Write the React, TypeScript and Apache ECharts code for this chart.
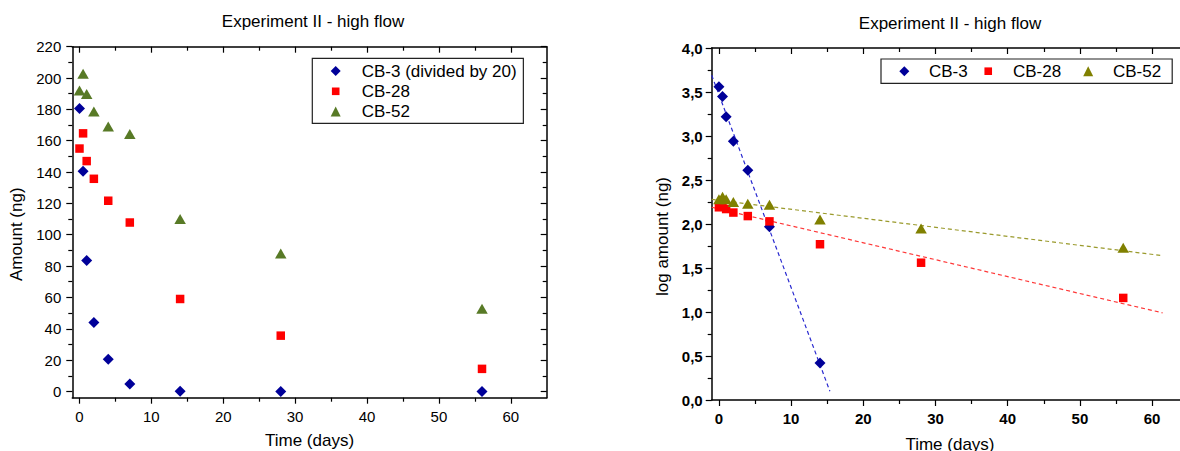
import React, { useEffect, useRef } from 'react';
import * as echarts from 'echarts';

const FONT = '"Liberation Sans", Arial, Helvetica, sans-serif';

// ---- Left panel: amounts (ng) ----
const days = [0, 0.5, 1, 2, 4, 7, 14, 28, 56];
const cb3Div20 = [180.5, 140.5, 83.5, 44, 20.5, 4.7, 0.1, 0, 0];
const cb28 = [155, 164.7, 147, 135.7, 121.7, 107.8, 59, 35.6, 14.4];
const cb52 = [192, 202.8, 189.8, 178.7, 169, 164.3, 110, 88, 52.7];

// ---- Right panel: log amounts ----
const daysCb3Log = [0, 0.5, 1, 2, 4, 7, 14];
const logCb3 = [3.56, 3.45, 3.22, 2.94, 2.61, 1.97, 0.42];
const logCb28 = [2.19, 2.22, 2.17, 2.13, 2.09, 2.03, 1.77, 1.56, 1.16];
const logCb52 = [2.28, 2.31, 2.28, 2.25, 2.23, 2.22, 2.05, 1.95, 1.73];
// dashed linear fits (end points)
const fitCb3 = [[-1, 3.69], [15.37, 0.1]];
const fitCb28 = [[-1, 2.19], [61.45, 0.99]];
const fitCb52 = [[-1, 2.28], [61.45, 1.64]];

// ---- ticks ----
const xMajorTicks = [0, 10, 20, 30, 40, 50, 60];
const xMinorTicks = [5, 15, 25, 35, 45, 55];
const amountMajorTicks = [0, 20, 40, 60, 80, 100, 120, 140, 160, 180, 200, 220];
const amountMinorTicks = [10, 30, 50, 70, 90, 110, 130, 150, 170, 190, 210];
const logMajorTicks = [0, 0.5, 1, 1.5, 2, 2.5, 3, 3.5, 4];
const logMinorTicks = [0.25, 0.75, 1.25, 1.75, 2.25, 2.75, 3.25, 3.75];

const BLUE = '#000099';
const RED = '#ff0000';
const GREEN_L = '#587a26';
const GREEN_R = '#808000';

type AxisCfg = {
  isX: boolean;
  min: number;
  max: number;
  major: number[];
  minor: number[];
  labelStyle: any;
  labelMargin: number;
  formatter?: (v: number) => string;
  name: string;
  nameGap: number;
  namePadding: number[];
};

function makeAxes(c: AxisCfg) {
  const mainPos = c.isX ? 'bottom' : 'left';
  const oppPos = c.isX ? 'top' : 'right';
  const line = { color: '#000', width: 1.5 };
  const tickLine = { color: '#000', width: 1.2 };
  const base = { type: 'value', min: c.min, max: c.max, splitLine: { show: false } };
  return [
    {
      ...base,
      position: mainPos,
      axisLine: { show: true, onZero: false, lineStyle: line },
      axisTick: { show: true, inside: false, length: 6, customValues: c.major, lineStyle: tickLine },
      axisLabel: {
        show: true,
        customValues: c.major,
        margin: c.labelMargin,
        formatter: c.formatter,
        color: '#000',
        fontFamily: FONT,
        ...c.labelStyle,
      },
      name: c.name,
      nameLocation: 'middle',
      nameGap: c.nameGap,
      nameTextStyle: { fontSize: 17, fontFamily: FONT, color: '#000', padding: c.namePadding },
    },
    {
      ...base,
      position: mainPos,
      axisLine: { show: false, onZero: false },
      axisTick: { show: true, inside: false, length: 4, customValues: c.minor, lineStyle: tickLine },
      axisLabel: { show: false },
    },
    {
      ...base,
      position: oppPos,
      axisLine: { show: true, onZero: false, lineStyle: line },
      axisTick: { show: true, inside: true, length: 6, customValues: c.major, lineStyle: tickLine },
      axisLabel: { show: false },
    },
    {
      ...base,
      position: oppPos,
      axisLine: { show: false, onZero: false },
      axisTick: { show: true, inside: true, length: 4, customValues: c.minor, lineStyle: tickLine },
      axisLabel: { show: false },
    },
  ];
}

const pairs = (xs: number[], ys: number[]) => ys.map((y, i) => [xs[i], y]);

const titleOpt = (top: number) => ({
  text: 'Experiment II - high flow',
  left: 'center',
  top,
  padding: 0,
  textStyle: { fontSize: 17, fontWeight: 'normal', fontFamily: FONT, color: '#000' },
});

const SQUARE_ICON = 'path://M0,0M10,10M1.2,1.2L8.8,1.2L8.8,8.8L1.2,8.8Z';

const leftOption: any = {
  animation: false,
  textStyle: { fontFamily: FONT },
  title: titleOpt(13),
  grid: { left: 72.3, top: 46.7, width: 474.4, height: 351, outerBoundsMode: 'none' },
  xAxis: makeAxes({
    isX: true, min: -1, max: 65, major: xMajorTicks, minor: xMinorTicks,
    labelStyle: { fontSize: 15 }, labelMargin: 11,
    name: 'Time (days)', nameGap: 34, namePadding: [0, 0, 0, 0],
  }),
  yAxis: makeAxes({
    isX: false, min: -4, max: 220, major: amountMajorTicks, minor: amountMinorTicks,
    labelStyle: { fontSize: 15 }, labelMargin: 11,
    name: 'Amount (ng)', nameGap: 44, namePadding: [0, 24, 0, 0],
  }),
  legend: {
    orient: 'vertical',
    left: 312.3,
    top: 58.3,
    padding: [2.7, 6.7, 1.7, 18.4],
    itemWidth: 10,
    itemHeight: 10,
    itemGap: 0.3,
    borderColor: '#222',
    borderWidth: 1.2,
    textStyle: { fontSize: 17, lineHeight: 20, fontFamily: FONT, color: '#000', padding: [0, 0, 0, 16] },
    data: [
      { name: 'CB-3 (divided by 20)', icon: 'diamond' },
      { name: 'CB-28', icon: SQUARE_ICON },
      { name: 'CB-52', icon: 'triangle' },
    ],
  },
  series: [
    { type: 'scatter', name: 'CB-3 (divided by 20)', data: pairs(days, cb3Div20), symbol: 'diamond', symbolSize: 11, itemStyle: { color: BLUE, opacity: 1 }, z: 3 },
    { type: 'scatter', name: 'CB-28', data: pairs(days, cb28), symbol: 'rect', symbolSize: 8.5, itemStyle: { color: RED, opacity: 1 }, z: 3 },
    { type: 'scatter', name: 'CB-52', data: pairs(days, cb52), symbol: 'triangle', symbolSize: [11.5, 10], itemStyle: { color: GREEN_L, opacity: 1 }, z: 3 },
  ],
};

const fmtComma = (v: number) => v.toFixed(1).replace('.', ',');

const rightOption: any = {
  animation: false,
  textStyle: { fontFamily: FONT },
  title: titleOpt(15),
  grid: { left: 121.7, top: 48, width: 476.5, height: 352, outerBoundsMode: 'none' },
  xAxis: makeAxes({
    isX: true, min: -1, max: 65, major: xMajorTicks, minor: xMinorTicks,
    labelStyle: { fontSize: 15, fontWeight: 'bold' }, labelMargin: 11,
    name: 'Time (days)', nameGap: 35.5, namePadding: [0, 0, 0, 0],
  }),
  yAxis: makeAxes({
    isX: false, min: 0, max: 4, major: logMajorTicks, minor: logMinorTicks,
    labelStyle: { fontSize: 15, fontWeight: 'bold' }, labelMargin: 9, formatter: fmtComma,
    name: 'log amount (ng)', nameGap: 40, namePadding: [0, 25, 0, 0],
  }),
  legend: {
    orient: 'horizontal',
    left: 291,
    top: 59,
    padding: [2.2, 11.1, 2.1, 18.3],
    itemWidth: 10,
    itemHeight: 10,
    itemGap: 15.5,
    borderColor: '#222',
    borderWidth: 1.2,
    textStyle: { fontSize: 17, lineHeight: 20, fontFamily: FONT, color: '#000', padding: [0, 0, 0, 14.7] },
    data: [
      { name: 'CB-3', icon: 'diamond' },
      { name: 'CB-28', icon: SQUARE_ICON, textStyle: { padding: [0, 6.6, 0, 14.7] } },
      { name: 'CB-52', icon: 'triangle' },
    ],
  },
  series: [
    { type: 'line', name: 'fit CB-3', data: fitCb3, symbol: 'none', silent: true, lineStyle: { color: '#2a2ad0', width: 1.2, type: [4, 3] }, z: 2 },
    { type: 'line', name: 'fit CB-28', data: fitCb28, symbol: 'none', silent: true, lineStyle: { color: '#ff3838', width: 1.2, type: [4, 3] }, z: 2 },
    { type: 'line', name: 'fit CB-52', data: fitCb52, symbol: 'none', silent: true, lineStyle: { color: '#9a9a2c', width: 1.2, type: [4, 3] }, z: 2 },
    { type: 'scatter', name: 'CB-3', data: pairs(daysCb3Log, logCb3), symbol: 'diamond', symbolSize: 11, itemStyle: { color: BLUE, opacity: 1 }, z: 3 },
    { type: 'scatter', name: 'CB-28', data: pairs(days, logCb28), symbol: 'rect', symbolSize: 8.5, itemStyle: { color: RED, opacity: 1 }, z: 3 },
    { type: 'scatter', name: 'CB-52', data: pairs(days, logCb52), symbol: 'triangle', symbolSize: [11.5, 10], itemStyle: { color: GREEN_R, opacity: 1 }, z: 3 },
  ],
};

function EChart({ option, style }: { option: any; style: React.CSSProperties }) {
  const ref = useRef<HTMLDivElement>(null);
  useEffect(() => {
    if (!ref.current) return;
    const chart = echarts.init(ref.current, undefined, { renderer: 'svg' });
    chart.setOption(option);
    return () => chart.dispose();
  }, [option]);
  return <div ref={ref} style={style} />;
}

export default function App() {
  return (
    <div
      style={{
        position: 'absolute',
        left: 0,
        top: 0,
        width: 1180,
        height: 451,
        overflow: 'hidden',
        background: '#fff',
      }}
    >
      <EChart option={leftOption} style={{ position: 'absolute', left: 0, top: 0, width: 626, height: 451 }} />
      <EChart option={rightOption} style={{ position: 'absolute', left: 590, top: 0, width: 720, height: 451 }} />
    </div>
  );
}
